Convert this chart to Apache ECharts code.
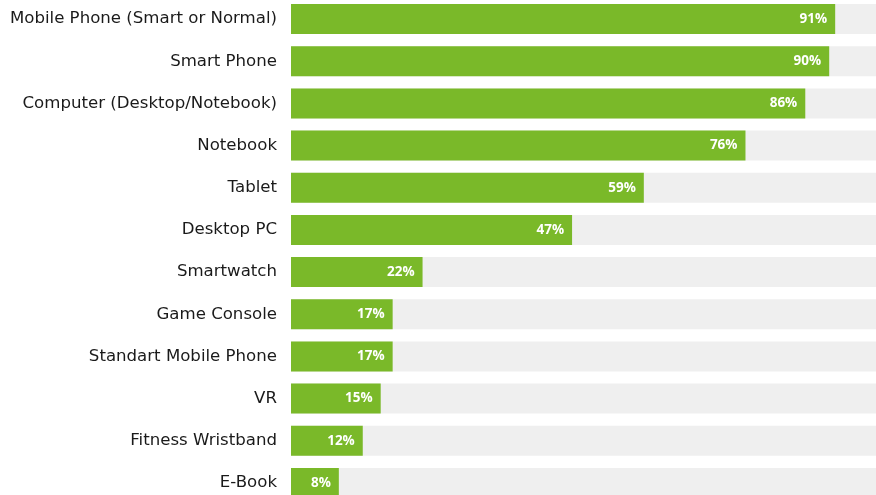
<!DOCTYPE html>
<html>
<head>
<meta charset="utf-8">
<script src="https://cdn.jsdelivr.net/npm/echarts@6/dist/echarts.min.js"></script>
<style>
  html, body { margin: 0; padding: 0; background: #ffffff; }
  #chart { width: 876px; height: 495px; }
</style>
</head>
<body>
<div id="chart"></div>
<script>
// Device ownership shares, in percent
const categories = [
  'Mobile Phone (Smart or Normal)',
  'Smart Phone',
  'Computer (Desktop/Notebook)',
  'Notebook',
  'Tablet',
  'Desktop PC',
  'Smartwatch',
  'Game Console',
  'Standart Mobile Phone',
  'VR',
  'Fitness Wristband',
  'E-Book'
];
const shares = [91, 90, 86, 76, 59, 47, 22, 17, 17, 15, 12, 8];

const chart = echarts.init(document.getElementById('chart'), null, { renderer: 'canvas' });

chart.setOption({
  animation: false,
  // the value axis runs past the right and bottom edges, so the tracks are clipped
  grid: {
    left: 291, width: 598, top: -2, height: 506,
    containLabel: false,
    outerBoundsMode: 'none'
  },
  xAxis: {
    type: 'value', min: 0, max: 100,
    show: false
  },
  yAxis: {
    type: 'category',
    inverse: true,
    data: categories,
    axisLine: { show: false },
    axisTick: { show: false },
    axisLabel: {
      margin: 14,
      color: '#1a1a1a',
      fontFamily: 'DejaVu Sans',
      fontSize: 16.6
    }
  },
  series: [{
    type: 'bar',
    data: shares,
    barWidth: 30,
    itemStyle: { color: '#7ab929' },
    showBackground: true,
    backgroundStyle: { color: '#efefef' },
    label: {
      show: true,
      position: 'insideRight',
      distance: 8,
      formatter: '{c}%',
      color: '#ffffff',
      fontFamily: 'Open Sans',
      fontWeight: 'bold',
      fontSize: 13.5
    }
  }]
});
</script>
</body>
</html>
